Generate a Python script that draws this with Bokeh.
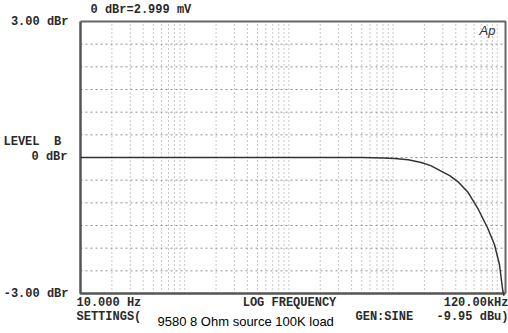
import math
from bokeh.plotting import figure
from bokeh.models import Label, ColumnDataSource
from bokeh.embed import file_html
from bokeh.resources import INLINE

# Data (frequency in Hz, level in dBr)
freq_hz = [10, 20, 50, 100, 200, 500, 1000, 2000, 5000, 8000, 10300,
           14000, 18600, 23000, 28900, 35000, 41800, 52100, 65000, 81000,
           94000, 105000, 113000, 116000]
level_dbr = [0.0, 0.0, 0.0, 0.0, 0.0, 0.0, 0.0, 0.0, 0.0, -0.01, -0.02,
             -0.05, -0.11, -0.18, -0.30, -0.40, -0.53, -0.76, -1.12, -1.56,
             -1.92, -2.36, -2.94, -3.05]

x_grid_ticks = [m * 10 ** e for e in range(1, 5) for m in range(1, 10)] + [100000]
y_grid_ticks = [-2.5, -2.0, -1.5, -1.0, -0.5, 0.0, 0.5, 1.0, 1.5, 2.0, 2.5]

x_min, x_max = 10, 120000
y_min, y_max = -3.0, 3.0

# Canvas layout (pixels): plot box from (80, 21) to (505, 293) in a 508x333 canvas
W, H = 508, 333
BL, BR, BT, BB = 80, 505, 21, 293
dec = math.log10(x_max) - math.log10(x_min)
ppd = (BR - BL) / dec
ppdb = (BB - BT) / (y_max - y_min)
xr = (10 ** (math.log10(x_min) - BL / ppd), 10 ** (math.log10(x_max) + (W - BR) / ppd))
yr = (y_min - (H - BB) / ppdb, y_max + BT / ppdb)

p = figure(width=W, height=H, x_axis_type="log", x_range=xr, y_range=yr,
           output_backend="svg", toolbar_location=None,
           x_axis_location=None, y_axis_location=None,
           min_border=0)
p.grid.visible = False
p.outline_line_color = None
p.background_fill_color = "white"
p.border_fill_color = "white"

# dotted grid
p.segment(x0=x_grid_ticks, x1=x_grid_ticks, y0=[y_min] * len(x_grid_ticks),
          y1=[y_max] * len(x_grid_ticks), line_color="#8f8f8f",
          line_dash="1 3", line_width=1)
p.segment(x0=[x_min] * len(y_grid_ticks), x1=[x_max] * len(y_grid_ticks),
          y0=y_grid_ticks, y1=y_grid_ticks, line_color="#8f8f8f",
          line_dash="2 3", line_width=1)

# plot box
p.line([x_min, x_max, x_max], [y_max, y_max, y_min], line_color="#666666", line_width=2)
p.line([x_min, x_min, x_max], [y_max, y_min, y_min], line_color="#555555", line_width=2.5)

src = ColumnDataSource(dict(f=freq_hz, l=level_dbr))
p.line("f", "l", source=src, line_color="#333333", line_width=1.5)

MONO = "Liberation Mono"
SANS = "Liberation Sans"
NB = "\u00a0"


def lab(text, wx, wy, align="left", font=MONO, size="12px", style="bold", color="#2a2a2a"):
    # wx, wy: canvas pixel position; plot box bottom-left is at (BL, BB)
    p.add_layout(Label(x=x_min, y=y_min, x_offset=wx - BL, y_offset=BB - wy,
                       text=text, text_align=align, text_baseline="middle",
                       text_font=font, text_font_size=size,
                       text_font_style=style, text_color=color))


lab("0 dBr=2.999 mV", 90, 9)
lab("3.00 dBr", 68, 21, align="right")
lab("LEVEL" + NB + NB + "B", 3, 141)
lab("0 dBr", 67, 156, align="right")
lab("-3.00 dBr", 68, 293, align="right")
lab("10.000 Hz", 76, 302)
lab("LOG FREQUENCY", 289, 302, align="center")
lab("120.00kHz", 508, 302, align="right")
lab("SETTINGS(", 76, 316)
lab("GEN:SINE", 355, 316)
lab("-9.95 dBu)", 508, 316, align="right")
lab("9580 8 Ohm source 100K load", 157, 321, font=SANS, size="13px", style="normal", color="#000000")
lab("Ap", 487, 30, align="center", font=SANS, size="13px", style="italic", color="#333333")

open("out.html", "w").write(file_html(p, INLINE))
